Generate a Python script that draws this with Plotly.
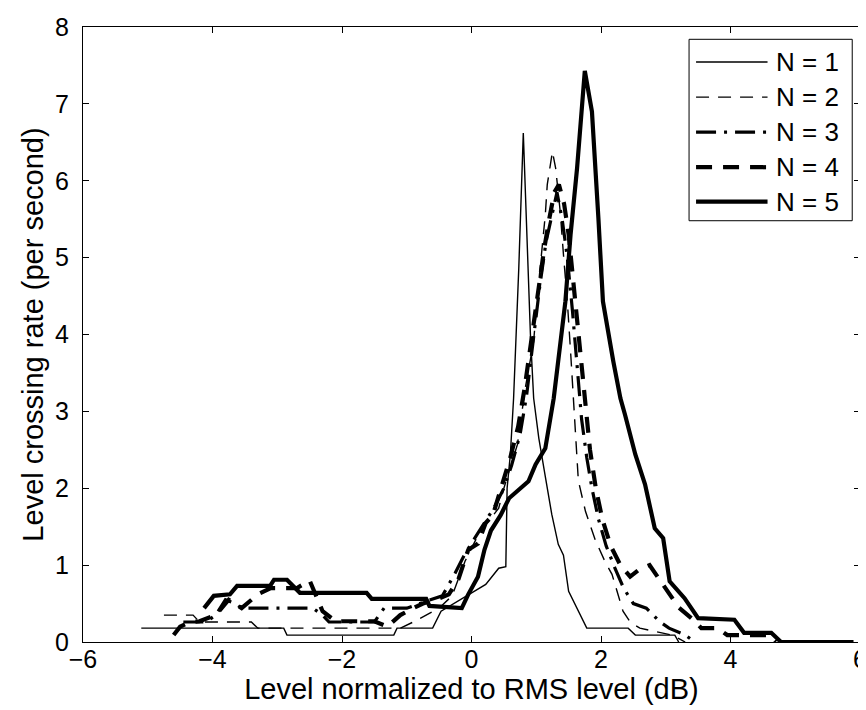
import plotly.graph_objects as go

# ---- data ----
n1_x = [-5.1, -2.9, -2.85, -1.2, -1.15, -0.6, -0.47, -0.03, 0.22, 0.42, 0.53, 0.55, 0.6, 0.65, 0.73, 0.8,
        0.86, 0.91, 0.96, 1.04, 1.14, 1.24, 1.34, 1.42, 1.5, 1.65, 1.78, 2.42, 2.53, 3.14, 3.2]
n1_y = [0.18, 0.18, 0.09, 0.09, 0.18, 0.18, 0.4, 0.62, 0.75, 0.96, 0.98, 2.0, 2.44, 3.17, 4.86, 6.62,
        5.3, 4.0, 3.17, 2.65, 2.15, 1.66, 1.27, 1.13, 0.66, 0.4, 0.18, 0.18, 0.09, 0.09, 0.0]

n2_x = [-4.75, -4.3, -4.2, -3.4, -3.3, -1.1, -0.9, -0.7, -0.5, -0.3, -0.1, 0.12, 0.42, 0.5, 0.71, 0.83,
        0.96, 1.01, 1.09, 1.14, 1.17, 1.25, 1.3, 1.37, 1.42, 1.48, 1.53, 1.57, 1.6, 1.65, 1.76, 1.91,
        2.06, 2.17, 2.34, 2.45, 2.6, 3.1, 3.3]
n2_y = [0.35, 0.35, 0.26, 0.26, 0.18, 0.18, 0.26, 0.35, 0.44, 0.6, 1.05, 1.42, 1.74, 2.0, 2.57, 3.3,
        3.91, 4.43, 5.08, 5.56, 5.95, 6.38, 6.16, 5.6, 5.04, 4.43, 3.78, 3.17, 2.87, 2.1, 1.7, 1.33,
        1.05, 0.88, 0.4, 0.26, 0.18, 0.09, 0.0]

n3_x = [-4.45, -4.1, -3.95, -3.8, -3.65, -3.55, -2.45, -2.3, -2.2, -1.5, -1.35, -1.0, -0.7, -0.45,
        -0.25, -0.1, 0.05, 0.2, 0.35, 0.5, 0.62, 0.75, 0.85, 0.95, 1.05, 1.15, 1.25, 1.32, 1.4, 1.48,
        1.56, 1.63, 1.7, 1.78, 1.86, 1.96, 2.08, 2.22, 2.35, 2.5, 2.7, 2.9, 3.05, 3.3, 3.45]
n3_y = [0.26, 0.26, 0.35, 0.55, 0.5, 0.44, 0.44, 0.35, 0.26, 0.26, 0.44, 0.44, 0.53, 0.6,
        0.9, 1.15, 1.35, 1.55, 1.75, 2.0, 2.3, 2.7, 3.2, 3.9, 4.6, 5.2, 5.6, 5.85, 5.5, 5.0,
        4.3, 3.6, 2.9, 2.4, 2.0, 1.6, 1.25, 0.95, 0.7, 0.5, 0.44, 0.27, 0.18, 0.09, 0.0]

n4_x = [-4.6, -4.5, -4.35, -4.2, -3.95, -3.75, -3.55, -3.3, -3.1, -2.7, -2.5, -2.4, -2.3, -2.1, -1.5,
        -1.3, -1.1, -0.9, -0.75, -0.55, -0.35, -0.2, -0.05, 0.1, 0.22, 0.33, 0.45, 0.6, 0.72, 0.82,
        0.92, 1.03, 1.12, 1.2, 1.28, 1.35, 1.43, 1.5, 1.58, 1.66, 1.75, 1.83, 1.92, 2.02, 2.15, 2.3,
        2.45, 2.6, 2.75, 2.95, 3.2, 3.45, 3.55, 3.8, 3.95, 4.6, 4.7]
n4_y = [0.09, 0.2, 0.26, 0.27, 0.35, 0.55, 0.44, 0.62, 0.7, 0.7, 0.8, 0.6, 0.4, 0.27, 0.27,
        0.2, 0.35, 0.44, 0.5, 0.55, 0.62, 0.82, 1.2, 1.28, 1.55, 1.65, 2.0, 2.4, 2.8, 3.3,
        3.9, 4.6, 5.1, 5.5, 5.85, 5.95, 5.7, 5.3, 4.6, 4.0, 3.1, 2.5, 2.0, 1.6, 1.25, 1.0,
        0.85, 0.95, 1.0, 0.75, 0.45, 0.27, 0.18, 0.18, 0.09, 0.09, 0.0]

n5_x = [-4.13, -3.98, -3.73, -3.62, -3.11, -3.05, -2.85, -2.65, -1.62, -1.54, -0.7, -0.65, -0.15,
        -0.05, 0.1, 0.2, 0.3, 0.45, 0.58, 0.88, 0.99, 1.14, 1.27, 1.32, 1.45, 1.53, 1.63, 1.75,
        1.86, 1.96, 2.03, 2.19, 2.3, 2.37, 2.53, 2.68, 2.83, 2.96, 3.06, 3.29, 3.5, 4.06, 4.21,
        4.63, 4.78, 5.9]
n5_y = [0.44, 0.6, 0.62, 0.73, 0.73, 0.81, 0.81, 0.64, 0.64, 0.56, 0.56, 0.47, 0.44,
        0.62, 0.85, 1.2, 1.45, 1.65, 1.87, 2.09, 2.31, 2.52, 3.17, 3.52, 4.43, 5.3, 6.16, 7.43,
        6.9, 5.51, 4.43, 3.65, 3.17, 2.96, 2.44, 2.05, 1.48, 1.35, 0.79, 0.57, 0.31, 0.29, 0.12,
        0.12, 0.0, 0.0]

series_names = ["N = 1", "N = 2", "N = 3", "N = 4", "N = 5"]
x_ticks = [-6, -4, -2, 0, 2, 4, 6]
y_ticks = [0, 1, 2, 3, 4, 5, 6, 7, 8]

styles = [
    dict(width=1.4, dash="solid"),
    dict(width=1.4, dash="13px,9px"),
    dict(width=3.2, dash="20px,8px,3px,8px"),
    dict(width=4.2, dash="16px,11px"),
    dict(width=4.2, dash="solid"),
]

FONT = "Liberation Sans, Arial, Helvetica, sans-serif"

fig = go.Figure()
for xs, ys, name, st in zip([n1_x, n2_x, n3_x, n4_x, n5_x], [n1_y, n2_y, n3_y, n4_y, n5_y],
                            series_names, styles):
    fig.add_trace(go.Scatter(x=xs, y=ys, mode="lines", name=name, showlegend=False,
                             line=dict(color="black", width=st["width"], dash=st["dash"])))

# custom legend (box, sample lines, labels) in paper coordinates
lx0, lx1, ly0, ly1 = 0.780, 0.990, 0.685, 0.980
fig.add_shape(type="rect", xref="paper", yref="paper", x0=lx0, x1=lx1, y0=ly0, y1=ly1,
              line=dict(color="black", width=1), fillcolor="white", layer="above")
rows = [0.943, 0.886, 0.829, 0.772, 0.716]
for r, name, st in zip(rows, series_names, styles):
    fig.add_shape(type="line", xref="paper", yref="paper", x0=0.789, x1=0.881, y0=r, y1=r,
                  line=dict(color="black", width=st["width"], dash=st["dash"]), layer="above")
    fig.add_annotation(xref="paper", yref="paper", x=0.889, y=r, text=name, showarrow=False,
                       xanchor="left", yanchor="middle", font=dict(family=FONT, size=26, color="black"))

axis_common = dict(showline=True, linecolor="black", linewidth=1, mirror="allticks", ticks="inside",
                   ticklen=6, tickcolor="black", showgrid=False, zeroline=False, automargin=False,
                   tickfont=dict(family=FONT, size=25, color="black"))

fig.update_layout(
    width=866, height=710,
    margin=dict(l=75, r=14, t=19, b=76),
    paper_bgcolor="white", plot_bgcolor="white",
    font=dict(family=FONT, color="black"),
    xaxis=dict(range=[-6, 6], tickvals=x_ticks, ticklabelstandoff=-5,
               title=dict(text="Level normalized to RMS level (dB)", font=dict(size=29), standoff=0),
               **axis_common),
    yaxis=dict(range=[0, 8], tickvals=y_ticks, ticklabelstandoff=8,
               title=dict(text="Level crossing rate (per second)", font=dict(size=29), standoff=2),
               **axis_common),
)

fig.write_html("out.html")
